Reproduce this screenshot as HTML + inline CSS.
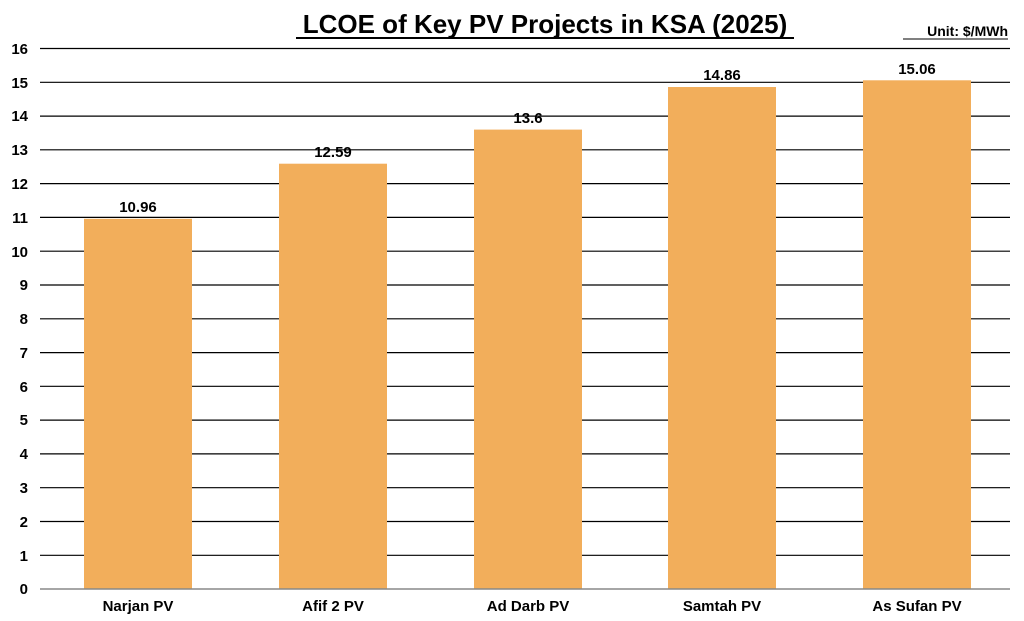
<!DOCTYPE html>
<html><head><meta charset="utf-8"><style>
html,body{margin:0;padding:0;background:#fff;}
svg{display:block;font-family:"Liberation Sans",Arial,sans-serif;font-weight:bold;}
</style></head><body>
<svg width="1024" height="621" viewBox="0 0 1024 621" xmlns="http://www.w3.org/2000/svg">
<rect width="1024" height="621" fill="#fff"/>
<text x="545" y="33" text-anchor="middle" font-size="26" fill="#000">LCOE of Key PV Projects in KSA (2025)</text>
<line x1="296" y1="38" x2="794" y2="38" stroke="#000" stroke-width="2"/>
<text x="1008" y="36" text-anchor="end" font-size="14" fill="#000">Unit: $/MWh</text>
<line x1="903" y1="39" x2="1008" y2="39" stroke="#000" stroke-width="1"/>
<g stroke="#000" stroke-width="1.2">
<line x1="40" x2="1010" y1="48.5" y2="48.5"/><line x1="40" x2="1010" y1="82.3" y2="82.3"/>
<line x1="40" x2="1010" y1="116.1" y2="116.1"/><line x1="40" x2="1010" y1="149.8" y2="149.8"/>
<line x1="40" x2="1010" y1="183.6" y2="183.6"/><line x1="40" x2="1010" y1="217.4" y2="217.4"/>
<line x1="40" x2="1010" y1="251.2" y2="251.2"/><line x1="40" x2="1010" y1="285" y2="285"/>
<line x1="40" x2="1010" y1="318.8" y2="318.8"/><line x1="40" x2="1010" y1="352.6" y2="352.6"/>
<line x1="40" x2="1010" y1="386.3" y2="386.3"/><line x1="40" x2="1010" y1="420.1" y2="420.1"/>
<line x1="40" x2="1010" y1="453.9" y2="453.9"/><line x1="40" x2="1010" y1="487.7" y2="487.7"/>
<line x1="40" x2="1010" y1="521.5" y2="521.5"/><line x1="40" x2="1010" y1="555.3" y2="555.3"/>
</g>
<g font-size="15" text-anchor="end" fill="#000">
<text x="28" y="54">16</text><text x="28" y="88">15</text><text x="28" y="121">14</text>
<text x="28" y="155">13</text><text x="28" y="189">12</text><text x="28" y="223">11</text>
<text x="28" y="257">10</text><text x="28" y="290">9</text><text x="28" y="324">8</text>
<text x="28" y="358">7</text><text x="28" y="392">6</text><text x="28" y="425">5</text>
<text x="28" y="459">4</text><text x="28" y="493">3</text><text x="28" y="527">2</text>
<text x="28" y="561">1</text><text x="28" y="594">0</text>
</g>
<g fill="#F2AE5B">
<rect x="84" y="218.8" width="108" height="370.2"/>
<rect x="279" y="163.7" width="108" height="425.3"/>
<rect x="474" y="129.6" width="108" height="459.4"/>
<rect x="668" y="87" width="108" height="502"/>
<rect x="863" y="80.3" width="108" height="508.7"/>
</g>
<line x1="40" x2="1010" y1="589" y2="589" stroke="#888" stroke-width="1.5"/>
<g font-size="15" text-anchor="middle" fill="#000">
<text x="138" y="212">10.96</text><text x="333" y="157">12.59</text>
<text x="528" y="123">13.6</text><text x="722" y="80">14.86</text><text x="917" y="74">15.06</text>
<text x="138" y="611">Narjan PV</text><text x="333" y="611">Afif 2 PV</text>
<text x="528" y="611">Ad Darb PV</text><text x="722" y="611">Samtah PV</text><text x="917" y="611">As Sufan PV</text>
</g>
</svg>
</body></html>
